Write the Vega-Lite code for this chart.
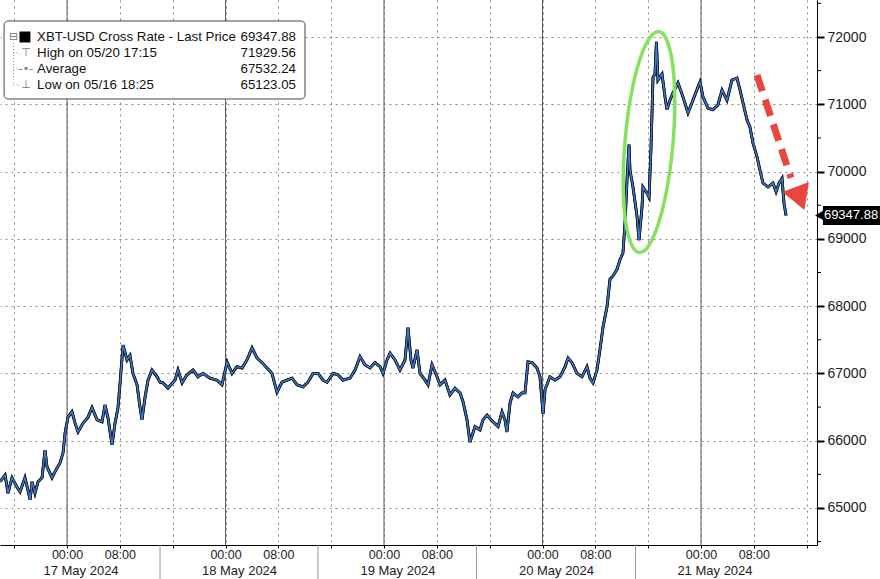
{
  "$schema": "https://vega.github.io/schema/vega-lite/v6.json",
  "width": 817,
  "height": 545,
  "autosize": {"type": "none"},
  "padding": {"left": 0, "top": 0, "right": 63, "bottom": 34},
  "background": "white",
  "config": {"view": {"stroke": null}, "font": "Liberation Sans"},
  "datasets": {
    "px": [
      {"t":"2024-05-16T13:51:00Z","p":65390},{"t":"2024-05-16T14:37:00Z","p":65490},{"t":"2024-05-16T15:04:00Z","p":65220},{"t":"2024-05-16T15:40:00Z","p":65450},{"t":"2024-05-16T16:26:00Z","p":65310},{"t":"2024-05-16T16:53:00Z","p":65240},{"t":"2024-05-16T17:38:00Z","p":65450},{"t":"2024-05-16T18:25:00Z","p":65125},{"t":"2024-05-16T18:42:00Z","p":65390},{"t":"2024-05-16T19:09:00Z","p":65220},{"t":"2024-05-16T19:37:00Z","p":65390},{"t":"2024-05-16T20:13:00Z","p":65450},{"t":"2024-05-16T20:40:00Z","p":65860},{"t":"2024-05-16T20:58:00Z","p":65610},{"t":"2024-05-16T21:44:00Z","p":65450},{"t":"2024-05-16T22:11:00Z","p":65540},{"t":"2024-05-16T22:56:00Z","p":65670},{"t":"2024-05-16T23:24:00Z","p":65820},{"t":"2024-05-16T23:42:00Z","p":66110},
      {"t":"2024-05-17T00:09:00Z","p":66350},{"t":"2024-05-17T00:45:00Z","p":66430},{"t":"2024-05-17T01:13:00Z","p":66260},{"t":"2024-05-17T01:40:00Z","p":66130},{"t":"2024-05-17T02:25:00Z","p":66260},{"t":"2024-05-17T03:11:00Z","p":66350},{"t":"2024-05-17T03:47:00Z","p":66490},{"t":"2024-05-17T04:33:00Z","p":66310},{"t":"2024-05-17T05:18:00Z","p":66280},{"t":"2024-05-17T05:45:00Z","p":66530},{"t":"2024-05-17T06:12:00Z","p":66340},{"t":"2024-05-17T06:49:00Z","p":65940},{"t":"2024-05-17T07:16:00Z","p":66260},{"t":"2024-05-17T07:43:00Z","p":66490},{"t":"2024-05-17T08:02:00Z","p":66860},{"t":"2024-05-17T08:29:00Z","p":67420},{"t":"2024-05-17T09:05:00Z","p":67200},{"t":"2024-05-17T09:32:00Z","p":67270},{"t":"2024-05-17T09:59:00Z","p":67000},{"t":"2024-05-17T10:36:00Z","p":66830},{"t":"2024-05-17T11:03:00Z","p":66500},{"t":"2024-05-17T11:21:00Z","p":66310},{"t":"2024-05-17T11:49:00Z","p":66650},{"t":"2024-05-17T12:16:00Z","p":66900},{"t":"2024-05-17T12:52:00Z","p":67050},{"t":"2024-05-17T13:38:00Z","p":66950},{"t":"2024-05-17T14:05:00Z","p":66870},{"t":"2024-05-17T14:32:00Z","p":66860},{"t":"2024-05-17T15:17:00Z","p":66780},{"t":"2024-05-17T16:21:00Z","p":66900},{"t":"2024-05-17T16:48:00Z","p":67050},{"t":"2024-05-17T17:25:00Z","p":66860},{"t":"2024-05-17T18:10:00Z","p":66980},{"t":"2024-05-17T19:05:00Z","p":67050},{"t":"2024-05-17T19:50:00Z","p":66950},{"t":"2024-05-17T20:36:00Z","p":67000},{"t":"2024-05-17T21:39:00Z","p":66930},{"t":"2024-05-17T22:43:00Z","p":66900},{"t":"2024-05-17T23:28:00Z","p":66830},
      {"t":"2024-05-18T00:14:00Z","p":67170},{"t":"2024-05-18T00:59:00Z","p":67000},{"t":"2024-05-18T01:44:00Z","p":67100},{"t":"2024-05-18T02:30:00Z","p":67080},{"t":"2024-05-18T03:15:00Z","p":67200},{"t":"2024-05-18T04:01:00Z","p":67380},{"t":"2024-05-18T04:46:00Z","p":67230},{"t":"2024-05-18T05:32:00Z","p":67160},{"t":"2024-05-18T06:17:00Z","p":67080},{"t":"2024-05-18T07:02:00Z","p":67000},{"t":"2024-05-18T07:48:00Z","p":66720},{"t":"2024-05-18T08:33:00Z","p":66870},{"t":"2024-05-18T09:19:00Z","p":66900},{"t":"2024-05-18T10:04:00Z","p":66930},{"t":"2024-05-18T10:50:00Z","p":66830},{"t":"2024-05-18T11:44:00Z","p":66800},{"t":"2024-05-18T12:29:00Z","p":66870},{"t":"2024-05-18T13:15:00Z","p":67000},{"t":"2024-05-18T14:01:00Z","p":67000},{"t":"2024-05-18T14:46:00Z","p":66900},{"t":"2024-05-18T15:22:00Z","p":66870},{"t":"2024-05-18T16:17:00Z","p":67000},{"t":"2024-05-18T17:02:00Z","p":66980},{"t":"2024-05-18T17:47:00Z","p":66900},{"t":"2024-05-18T18:51:00Z","p":66930},{"t":"2024-05-18T19:37:00Z","p":67050},{"t":"2024-05-18T20:22:00Z","p":67250},{"t":"2024-05-18T21:07:00Z","p":67130},{"t":"2024-05-18T21:53:00Z","p":67080},{"t":"2024-05-18T22:38:00Z","p":67160},{"t":"2024-05-18T23:24:00Z","p":67100},{"t":"2024-05-18T23:51:00Z","p":67000},
      {"t":"2024-05-19T00:27:00Z","p":67200},{"t":"2024-05-19T00:55:00Z","p":67300},{"t":"2024-05-19T01:40:00Z","p":67200},{"t":"2024-05-19T02:25:00Z","p":67050},{"t":"2024-05-19T03:11:00Z","p":67200},{"t":"2024-05-19T03:38:00Z","p":67680},{"t":"2024-05-19T04:05:00Z","p":67200},{"t":"2024-05-19T04:23:00Z","p":67080},{"t":"2024-05-19T05:00:00Z","p":67350},{"t":"2024-05-19T05:27:00Z","p":67000},{"t":"2024-05-19T06:13:00Z","p":66900},{"t":"2024-05-19T06:40:00Z","p":66830},{"t":"2024-05-19T07:16:00Z","p":67130},{"t":"2024-05-19T08:02:00Z","p":66950},{"t":"2024-05-19T08:29:00Z","p":66830},{"t":"2024-05-19T09:14:00Z","p":66900},{"t":"2024-05-19T09:59:00Z","p":66680},{"t":"2024-05-19T10:45:00Z","p":66780},{"t":"2024-05-19T11:31:00Z","p":66710},{"t":"2024-05-19T11:58:00Z","p":66580},{"t":"2024-05-19T12:34:00Z","p":66310},{"t":"2024-05-19T13:01:00Z","p":65980},{"t":"2024-05-19T13:47:00Z","p":66210},{"t":"2024-05-19T14:32:00Z","p":66160},{"t":"2024-05-19T14:59:00Z","p":66310},{"t":"2024-05-19T15:36:00Z","p":66380},{"t":"2024-05-19T16:30:00Z","p":66280},{"t":"2024-05-19T17:16:00Z","p":66210},{"t":"2024-05-19T17:52:00Z","p":66430},{"t":"2024-05-19T18:19:00Z","p":66310},{"t":"2024-05-19T18:37:00Z","p":66130},{"t":"2024-05-19T19:05:00Z","p":66560},{"t":"2024-05-19T19:32:00Z","p":66710},{"t":"2024-05-19T20:17:00Z","p":66650},{"t":"2024-05-19T20:54:00Z","p":66710},{"t":"2024-05-19T21:21:00Z","p":66710},{"t":"2024-05-19T21:48:00Z","p":67170},{"t":"2024-05-19T22:25:00Z","p":67160},{"t":"2024-05-19T23:10:00Z","p":67080},{"t":"2024-05-19T23:37:00Z","p":66950},
      {"t":"2024-05-20T00:05:00Z","p":66400},{"t":"2024-05-20T00:23:00Z","p":66760},{"t":"2024-05-20T01:08:00Z","p":66950},{"t":"2024-05-20T01:53:00Z","p":66900},{"t":"2024-05-20T02:39:00Z","p":66950},{"t":"2024-05-20T03:25:00Z","p":67100},{"t":"2024-05-20T03:52:00Z","p":67230},{"t":"2024-05-20T04:28:00Z","p":67160},{"t":"2024-05-20T05:13:00Z","p":67000},{"t":"2024-05-20T05:59:00Z","p":66950},{"t":"2024-05-20T06:44:00Z","p":67100},{"t":"2024-05-20T07:11:00Z","p":66930},{"t":"2024-05-20T07:39:00Z","p":66860},{"t":"2024-05-20T08:15:00Z","p":67050},{"t":"2024-05-20T08:42:00Z","p":67350},{"t":"2024-05-20T09:10:00Z","p":67690},{"t":"2024-05-20T09:46:00Z","p":67990},{"t":"2024-05-20T10:13:00Z","p":68400},{"t":"2024-05-20T10:41:00Z","p":68450},{"t":"2024-05-20T11:17:00Z","p":68550},{"t":"2024-05-20T11:44:00Z","p":68690},{"t":"2024-05-20T12:11:00Z","p":68790},{"t":"2024-05-20T12:30:00Z","p":69240},{"t":"2024-05-20T12:48:00Z","p":69880},{"t":"2024-05-20T13:06:00Z","p":70400},{"t":"2024-05-20T13:15:00Z","p":70020},{"t":"2024-05-20T13:42:00Z","p":69770},{"t":"2024-05-20T14:19:00Z","p":69330},{"t":"2024-05-20T14:37:00Z","p":68980},{"t":"2024-05-20T15:04:00Z","p":69470},{"t":"2024-05-20T15:13:00Z","p":69770},{"t":"2024-05-20T15:49:00Z","p":69680},{"t":"2024-05-20T16:08:00Z","p":69620},{"t":"2024-05-20T16:26:00Z","p":70360},{"t":"2024-05-20T16:44:00Z","p":71400},{"t":"2024-05-20T17:02:00Z","p":71450},{"t":"2024-05-20T17:15:00Z","p":71930},{"t":"2024-05-20T17:29:00Z","p":71360},{"t":"2024-05-20T18:06:00Z","p":71450},{"t":"2024-05-20T18:33:00Z","p":71110},{"t":"2024-05-20T18:51:00Z","p":70920},{"t":"2024-05-20T19:18:00Z","p":71060},{"t":"2024-05-20T19:46:00Z","p":71170},{"t":"2024-05-20T20:31:00Z","p":71320},{"t":"2024-05-20T21:16:00Z","p":71110},{"t":"2024-05-20T22:02:00Z","p":70870},{"t":"2024-05-20T22:47:00Z","p":71060},{"t":"2024-05-20T23:33:00Z","p":71260},{"t":"2024-05-20T23:51:00Z","p":71330},
      {"t":"2024-05-21T00:18:00Z","p":71110},{"t":"2024-05-21T01:04:00Z","p":70940},{"t":"2024-05-21T01:49:00Z","p":70920},{"t":"2024-05-21T02:34:00Z","p":70990},{"t":"2024-05-21T03:11:00Z","p":71210},{"t":"2024-05-21T03:56:00Z","p":71060},{"t":"2024-05-21T04:41:00Z","p":71360},{"t":"2024-05-21T05:27:00Z","p":71390},{"t":"2024-05-21T05:55:00Z","p":71210},{"t":"2024-05-21T06:22:00Z","p":71020},{"t":"2024-05-21T06:58:00Z","p":70770},{"t":"2024-05-21T07:25:00Z","p":70660},{"t":"2024-05-21T07:53:00Z","p":70420},{"t":"2024-05-21T08:29:00Z","p":70220},{"t":"2024-05-21T08:56:00Z","p":70020},{"t":"2024-05-21T09:23:00Z","p":69830},{"t":"2024-05-21T10:09:00Z","p":69770},{"t":"2024-05-21T10:54:00Z","p":69830},{"t":"2024-05-21T11:22:00Z","p":69700},{"t":"2024-05-21T11:49:00Z","p":69830},{"t":"2024-05-21T12:16:00Z","p":69900},{"t":"2024-05-21T12:34:00Z","p":69530},{"t":"2024-05-21T12:53:00Z","p":69347.88}
    ],
    "midnights": [
      {"t":"2024-05-17T00:00:00Z","td":"2024-05-17T02:07:00Z","p":64065,"label":"17 May 2024"},
      {"t":"2024-05-18T00:00:00Z","td":"2024-05-18T02:07:00Z","p":64065,"label":"18 May 2024"},
      {"t":"2024-05-19T00:00:00Z","td":"2024-05-19T02:07:00Z","p":64065,"label":"19 May 2024"},
      {"t":"2024-05-20T00:00:00Z","td":"2024-05-20T02:07:00Z","p":64065,"label":"20 May 2024"},
      {"t":"2024-05-21T00:00:00Z","td":"2024-05-21T02:07:00Z","p":64065,"label":"21 May 2024"}
    ],
    "separators": [
      {"t":"2024-05-17T14:05:00Z","p":64450,"p2":63940},
      {"t":"2024-05-18T14:00:00Z","p":64450,"p2":63940},
      {"t":"2024-05-19T14:00:00Z","p":64450,"p2":63940},
      {"t":"2024-05-20T14:05:00Z","p":64450,"p2":63940}
    ],
    "minorticks": [
      {"t":"2024-05-21T17:34:00Z","t2":"2024-05-21T18:10:00Z","p":64500},{"t":"2024-05-21T17:34:00Z","t2":"2024-05-21T18:10:00Z","p":65500},{"t":"2024-05-21T17:34:00Z","t2":"2024-05-21T18:10:00Z","p":66500},{"t":"2024-05-21T17:34:00Z","t2":"2024-05-21T18:10:00Z","p":67500},{"t":"2024-05-21T17:34:00Z","t2":"2024-05-21T18:10:00Z","p":68500},{"t":"2024-05-21T17:34:00Z","t2":"2024-05-21T18:10:00Z","p":69500},{"t":"2024-05-21T17:34:00Z","t2":"2024-05-21T18:10:00Z","p":70500},{"t":"2024-05-21T17:34:00Z","t2":"2024-05-21T18:10:00Z","p":71500},{"t":"2024-05-21T17:34:00Z","t2":"2024-05-21T18:10:00Z","p":72500}
    ],
    "legbox": [{"t":"2024-05-16T14:28:00Z","t2":"2024-05-18T12:02:00Z","p":72238,"p2":71079}],
    "legrows": [
      {"t":"2024-05-16T19:28:00Z","t2":"2024-05-18T10:40:00Z","ti":"2024-05-16T17:47:00Z","p":72000,"label":"XBT-USD Cross Rate - Last Price","val":"69347.88","icon":""},
      {"t":"2024-05-16T19:28:00Z","t2":"2024-05-18T10:40:00Z","ti":"2024-05-16T17:47:00Z","p":71762,"label":"High on 05/20 17:15","val":"71929.56","icon":"⊤"},
      {"t":"2024-05-16T19:28:00Z","t2":"2024-05-18T10:40:00Z","ti":"2024-05-16T17:47:00Z","p":71525,"label":"Average","val":"67532.24","icon":"-•-"},
      {"t":"2024-05-16T19:28:00Z","t2":"2024-05-18T10:40:00Z","ti":"2024-05-16T17:47:00Z","p":71287,"label":"Low on 05/16 18:25","val":"65123.05","icon":"⊥"}
    ],
    "legtree": [
      {"t":"2024-05-16T15:54:00Z","t2":"2024-05-16T15:54:00Z","p":71911,"p2":71287},
      {"t":"2024-05-16T15:54:00Z","t2":"2024-05-16T16:53:00Z","p":71762,"p2":71762},
      {"t":"2024-05-16T15:54:00Z","t2":"2024-05-16T16:53:00Z","p":71525,"p2":71525},
      {"t":"2024-05-16T15:54:00Z","t2":"2024-05-16T16:53:00Z","p":71287,"p2":71287}
    ],
    "legsq": [{"t":"2024-05-16T17:38:00Z","p":72000,"tt":"2024-05-16T15:54:00Z"}],
    "ellipse": [
      {"o":1,"t":"2024-05-20T17:36:00Z","p":72083},{"o":2,"t":"2024-05-20T19:12:00Z","p":71847},{"o":3,"t":"2024-05-20T20:00:00Z","p":71235},{"o":4,"t":"2024-05-20T19:45:00Z","p":70409},{"o":5,"t":"2024-05-20T18:32:00Z","p":69591},{"o":6,"t":"2024-05-20T16:40:00Z","p":69001},{"o":7,"t":"2024-05-20T14:40:00Z","p":68796},{"o":8,"t":"2024-05-20T13:03:00Z","p":69033},{"o":9,"t":"2024-05-20T12:15:00Z","p":69645},{"o":10,"t":"2024-05-20T12:31:00Z","p":70471},{"o":11,"t":"2024-05-20T13:43:00Z","p":71288},{"o":12,"t":"2024-05-20T15:35:00Z","p":71878}
    ],
    "arrow": [{"t":"2024-05-21T08:29:00Z","p":71435,"t2":"2024-05-21T13:38:00Z","p2":69905}],
    "head": [{"t":"2024-05-21T15:00:00Z","p":69600}],
    "lastbox": [{"t":"2024-05-21T18:28:00Z","t2":"2024-05-22T03:06:00Z","p":69489,"p2":69207}],
    "lastnotch": [{"t":"2024-05-21T18:05:00Z","p":69347.88}],
    "lasttext": [{"t":"2024-05-21T22:43:00Z","p":69347.88,"label":"69347.88"}]
  },
  "layer": [
    {
      "data": {"name": "px"},
      "mark": {"type": "line", "color": "#111111", "strokeWidth": 2.8},
      "encoding": {
        "x": {"field": "t", "type": "temporal", "title": null,
          "scale": {"type": "utc", "domain": [{"year":2024,"month":5,"date":16,"hours":13,"minutes":51,"utc":true},{"year":2024,"month":5,"date":21,"hours":17,"minutes":34,"utc":true}]},
          "axis": {"orient": "bottom", "title": null,
            "values": [
              {"year":2024,"month":5,"date":16,"hours":16,"utc":true},
              {"year":2024,"month":5,"date":17,"hours":0,"utc":true},{"year":2024,"month":5,"date":17,"hours":8,"utc":true},{"year":2024,"month":5,"date":17,"hours":16,"utc":true},
              {"year":2024,"month":5,"date":18,"hours":0,"utc":true},{"year":2024,"month":5,"date":18,"hours":8,"utc":true},{"year":2024,"month":5,"date":18,"hours":16,"utc":true},
              {"year":2024,"month":5,"date":19,"hours":0,"utc":true},{"year":2024,"month":5,"date":19,"hours":8,"utc":true},{"year":2024,"month":5,"date":19,"hours":16,"utc":true},
              {"year":2024,"month":5,"date":20,"hours":0,"utc":true},{"year":2024,"month":5,"date":20,"hours":8,"utc":true},{"year":2024,"month":5,"date":20,"hours":16,"utc":true},
              {"year":2024,"month":5,"date":21,"hours":0,"utc":true},{"year":2024,"month":5,"date":21,"hours":8,"utc":true},{"year":2024,"month":5,"date":21,"hours":16,"utc":true}
            ],
            "labelExpr": "utchours(datum.value) == 16 ? '' : utcFormat(datum.value, '%H:%M')",
            "labelFontSize": 12.5, "labelColor": "#222222", "labelPadding": 0,
            "labelOverlap": false, "labelFlush": false, "tickSize": 3, "tickColor": "#000000",
            "domainColor": "#000000", "domainWidth": 1, "grid": true,
            "gridColor": "#888888", "gridDash": [2, 4], "gridWidth": 1}},
        "y": {"field": "p", "type": "quantitative", "title": null,
          "scale": {"domain": [64450, 72550], "nice": false, "zero": false},
          "axis": {"orient": "right", "title": null, "values": [65000, 66000, 67000, 68000, 69000, 70000, 71000, 72000],
            "format": "d", "labelFontSize": 14, "labelColor": "#222222", "labelPadding": 3,
            "tickSize": 7, "tickWidth": 2, "tickColor": "#000000", "domainColor": "#000000",
            "grid": true, "gridColor": "#888888", "gridDash": [2, 4], "gridWidth": 1}}
      }
    },
    {
      "data": {"name": "midnights"},
      "mark": {"type": "rule", "color": "#5c5c5c", "strokeWidth": 1},
      "encoding": {
        "x": {"field": "t", "type": "temporal"},
        "y": {"datum": 64450, "type": "quantitative"},
        "y2": {"datum": 72550}
      }
    },
    {
      "data": {"name": "separators"},
      "mark": {"type": "rule", "color": "#999999", "strokeWidth": 1},
      "encoding": {
        "x": {"field": "t", "type": "temporal"},
        "y": {"field": "p", "type": "quantitative"},
        "y2": {"field": "p2"}
      }
    },
    {
      "data": {"name": "minorticks"},
      "mark": {"type": "rule", "color": "#000000", "strokeWidth": 1},
      "encoding": {
        "x": {"field": "t", "type": "temporal"},
        "x2": {"field": "t2"},
        "y": {"field": "p", "type": "quantitative"}
      }
    },
    {
      "data": {"name": "midnights"},
      "mark": {"type": "text", "fontSize": 13, "color": "#222222", "baseline": "middle", "align": "center"},
      "encoding": {
        "x": {"field": "td", "type": "temporal"},
        "y": {"field": "p", "type": "quantitative"},
        "text": {"field": "label"}
      }
    },
    {
      "data": {"name": "px"},
      "mark": {"type": "line", "color": "#111111", "strokeWidth": 2.8},
      "encoding": {
        "x": {"field": "t", "type": "temporal"},
        "y": {"field": "p", "type": "quantitative"}
      }
    },
    {
      "data": {"name": "px"},
      "mark": {"type": "line", "color": "#3a7ad6", "strokeWidth": 1.4},
      "encoding": {
        "x": {"field": "t", "type": "temporal"},
        "y": {"field": "p", "type": "quantitative"}
      }
    },
    {
      "data": {"name": "legbox"},
      "mark": {"type": "rect", "fill": "white", "stroke": "#444444", "strokeWidth": 1, "cornerRadius": 4},
      "encoding": {
        "x": {"field": "t", "type": "temporal"},
        "x2": {"field": "t2"},
        "y": {"field": "p", "type": "quantitative"},
        "y2": {"field": "p2"}
      }
    },
    {
      "data": {"name": "legtree"},
      "mark": {"type": "rule", "color": "#999999", "strokeWidth": 1, "strokeDash": [1, 2]},
      "encoding": {
        "x": {"field": "t", "type": "temporal"},
        "x2": {"field": "t2"},
        "y": {"field": "p", "type": "quantitative"},
        "y2": {"field": "p2"}
      }
    },
    {
      "data": {"name": "legsq"},
      "mark": {"type": "square", "filled": true, "color": "#000000", "size": 120, "opacity": 1},
      "encoding": {
        "x": {"field": "t", "type": "temporal"},
        "y": {"field": "p", "type": "quantitative"}
      }
    },
    {
      "data": {"name": "legsq"},
      "mark": {"type": "text", "text": "⊟", "font": "DejaVu Sans", "fontSize": 11, "color": "#777777", "baseline": "middle", "align": "center"},
      "encoding": {
        "x": {"field": "tt", "type": "temporal"},
        "y": {"field": "p", "type": "quantitative"}
      }
    },
    {
      "data": {"name": "legrows"},
      "mark": {"type": "text", "font": "DejaVu Sans", "fontSize": 11, "color": "#777777", "baseline": "middle", "align": "center"},
      "encoding": {
        "x": {"field": "ti", "type": "temporal"},
        "y": {"field": "p", "type": "quantitative"},
        "text": {"field": "icon"}
      }
    },
    {
      "data": {"name": "legrows"},
      "mark": {"type": "text", "fontSize": 13.3, "color": "#111111", "baseline": "middle", "align": "left"},
      "encoding": {
        "x": {"field": "t", "type": "temporal"},
        "y": {"field": "p", "type": "quantitative"},
        "text": {"field": "label"}
      }
    },
    {
      "data": {"name": "legrows"},
      "mark": {"type": "text", "fontSize": 13.3, "color": "#111111", "baseline": "middle", "align": "right"},
      "encoding": {
        "x": {"field": "t2", "type": "temporal"},
        "y": {"field": "p", "type": "quantitative"},
        "text": {"field": "val"}
      }
    },
    {
      "data": {"name": "ellipse"},
      "mark": {"type": "line", "interpolate": "cardinal-closed", "color": "#86e25e", "strokeWidth": 3.5},
      "encoding": {
        "x": {"field": "t", "type": "temporal"},
        "y": {"field": "p", "type": "quantitative"},
        "order": {"field": "o", "type": "quantitative"}
      }
    },
    {
      "data": {"name": "arrow"},
      "mark": {"type": "rule", "color": "#e8463f", "strokeWidth": 7, "strokeDash": [17, 9], "strokeCap": "butt"},
      "encoding": {
        "x": {"field": "t", "type": "temporal"},
        "x2": {"field": "t2"},
        "y": {"field": "p", "type": "quantitative"},
        "y2": {"field": "p2"}
      }
    },
    {
      "data": {"name": "head"},
      "mark": {"type": "point", "shape": "triangle-up", "filled": true, "color": "#e8463f", "size": 800, "angle": 159, "opacity": 1},
      "encoding": {
        "x": {"field": "t", "type": "temporal"},
        "y": {"field": "p", "type": "quantitative"}
      }
    },
    {
      "data": {"name": "lastbox"},
      "mark": {"type": "rect", "fill": "#000000"},
      "encoding": {
        "x": {"field": "t", "type": "temporal"},
        "x2": {"field": "t2"},
        "y": {"field": "p", "type": "quantitative"},
        "y2": {"field": "p2"}
      }
    },
    {
      "data": {"name": "lastnotch"},
      "mark": {"type": "point", "shape": "triangle-left", "filled": true, "color": "#000000", "size": 150, "opacity": 1},
      "encoding": {
        "x": {"field": "t", "type": "temporal"},
        "y": {"field": "p", "type": "quantitative"}
      }
    },
    {
      "data": {"name": "lasttext"},
      "mark": {"type": "text", "fontSize": 13, "color": "#ffffff", "baseline": "middle", "align": "center"},
      "encoding": {
        "x": {"field": "t", "type": "temporal"},
        "y": {"field": "p", "type": "quantitative"},
        "text": {"field": "label"}
      }
    }
  ]
}
